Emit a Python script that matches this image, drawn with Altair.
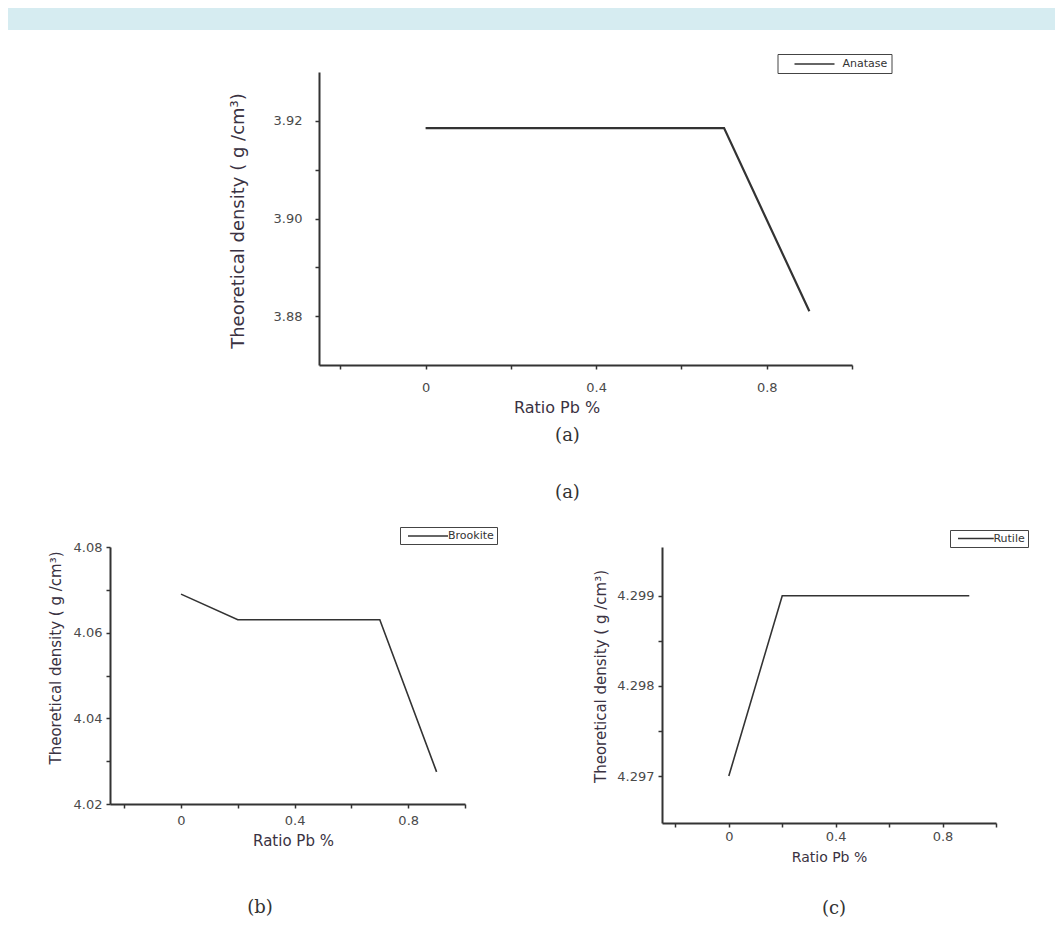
import altair as alt
import pandas as pd

# ---------------- data ----------------
ratio = [0.0, 0.2, 0.7, 0.9]
anatase = [3.9185, 3.9185, 3.9185, 3.881]
brookite = [4.069, 4.063, 4.063, 4.0275]
rutile = [4.297, 4.299, 4.299, 4.299]

x_ticks = [-0.2, 0.0, 0.2, 0.4, 0.6, 0.8, 1.0]
x_labels = ["0.00", "0.40", "0.80"]

a_ticks = [3.88, 3.89, 3.90, 3.91, 3.92]
a_labels = ["3.88", "3.90", "3.92"]
b_ticks = [4.02, 4.03, 4.04, 4.05, 4.06, 4.07, 4.08]
b_labels = ["4.02", "4.04", "4.06", "4.08"]
c_ticks = [4.297, 4.2975, 4.298, 4.2985, 4.299]
c_labels = ["4.2970", "4.2980", "4.2990"]

Y_TITLE = "Theoretical density ( g /cm\u00b3)"
X_TITLE = "Ratio Pb %"
NB = "\u00a0"

AXIS_COL = "#333333"
LABEL_COL = "#4a4a4a"
TITLE_COL = "#3a3242"
CAP_COL = "#333333"


def lab_expr(keys, keyfmt, showfmt):
    lst = "[" + ",".join("'" + k + "'" for k in keys) + "]"
    return (f"indexof({lst}, format(datum.value, '{keyfmt}')) >= 0 ? "
            f"format(datum.value, '{showfmt}') : ''")


def spacer(w, h, fill=None):
    return alt.Chart(alt.Data(values=[])).mark_point(opacity=0).encode(
        x=alt.value(0), y=alt.value(0)
    ).properties(width=w, height=h, view=alt.ViewBackground(stroke=None, fill=fill))


def panel(vals, name, ydom, yticks, ylabels, ykey, yshow, w, h, p):
    df = pd.DataFrame({"ratio": ratio, "density": vals, "phase": [name] * len(ratio)})
    x = alt.X(
        "ratio:Q",
        scale=alt.Scale(domain=[-0.25, 1.0], nice=False, zero=False),
        axis=alt.Axis(
            values=x_ticks, labelExpr=lab_expr(x_labels, ".2f", "~g"),
            title=X_TITLE, grid=False, domainColor=AXIS_COL, domainWidth=2,
            tickColor=AXIS_COL, tickWidth=1.5, tickSize=4,
            labelFont="DejaVu Sans", labelFontSize=p["lfs"], labelColor=LABEL_COL,
            labelPadding=p["xlp"], labelFlush=False, labelOverlap=False,
            titleFont=p["tfont"], titleFontSize=p["xtfs"], titleFontWeight="normal",
            titleColor=TITLE_COL, titleX=p["xtx"], titleY=p["xty"],
            titleAlign="center", titleBaseline="middle",
        ),
    )
    y = alt.Y(
        "density:Q",
        scale=alt.Scale(domain=ydom, nice=False, zero=False),
        axis=alt.Axis(
            values=yticks, labelExpr=lab_expr(ylabels, ykey, yshow),
            title=Y_TITLE, grid=False, domainColor=AXIS_COL, domainWidth=2,
            tickColor=AXIS_COL, tickWidth=1.5, tickSize=4,
            labelFont="DejaVu Sans", labelFontSize=p["lfs"], labelColor=LABEL_COL,
            labelPadding=p["ylp"], labelFlush=False, labelOverlap=False,
            titleFont=p["tfont"], titleFontSize=p["ytfs"], titleFontWeight="normal",
            titleColor=TITLE_COL, titleX=p["ytx"], titleY=p["yty"], titleAngle=270,
            titleAlign="center", titleBaseline="middle",
        ),
    )
    color = alt.Color(
        "phase:N",
        scale=alt.Scale(domain=[name], range=["#333333"]),
        legend=alt.Legend(
            title=None, orient="none", legendX=p["lgx"], legendY=p["lgy"],
            symbolType="M-4,0H4", symbolSize=p["ssize"], symbolStrokeWidth=1.5,
            symbolStrokeColor="#555555", symbolOffset=p["soff"],
            labelOffset=p["loff"], labelFont="DejaVu Sans", labelFontSize=11,
            labelColor="#333333", labelExpr=p["lexpr"],
            strokeColor="#444444", fillColor="white", padding=p["lpad"],
            cornerRadius=0,
        ),
    )
    title = alt.TitleParams(
        text=p["cap"], subtitle=p.get("sub", ""), orient="bottom", anchor="middle",
        frame="group", offset=p["coff"], dx=p["cdx"],
        font="DejaVu Serif", fontSize=18, fontWeight="normal", color=CAP_COL,
        subtitleFont="DejaVu Serif", subtitleFontSize=18, subtitleColor=CAP_COL,
        subtitlePadding=p.get("subpad", 0),
    )
    return alt.Chart(df, title=title).mark_line(strokeWidth=p["lw"]).encode(
        x=x, y=y, color=color
    ).properties(width=w, height=h)


pa = dict(lfs=13, xlp=12, ylp=13, tfont="DejaVu Sans", xtfs=16, ytfs=18,
          xtx=237.5, xty=42, ytx=-80.5, yty=148.5,
          lgx=458.5, lgy=-18, ssize=100, soff=27, loff=22, lpad=4,
          lexpr="datum.label + '" + NB * 8 + "'",
          cap="(a)", sub="(a)", subpad=39, coff=12, cdx=-18, lw=2.2)
pb = dict(lfs=13, xlp=6, ylp=4, tfont="DejaVu Sans", xtfs=15, ytfs=15,
          xtx=183, xty=36, ytx=-55, yty=110.5,
          lgx=290, lgy=-20, ssize=100, soff=19, loff=14, lpad=3,
          lexpr="datum.label",
          cap="(b)", coff=51, cdx=-27.5, lw=1.6)
pc = dict(lfs=13, xlp=3, ylp=4, tfont="DejaVu Sans", xtfs=14, ytfs=15,
          xtx=167, xty=34, ytx=-62, yty=129,
          lgx=288, lgy=-17, ssize=80, soff=17.4, loff=12, lpad=3,
          lexpr="datum.label",
          cap="(c)", coff=36, cdx=5, lw=1.6)

chart_a = panel(anatase, "Anatase", [3.87, 3.93], a_ticks, a_labels, ".2f", ".2f", 533, 293, pa)
chart_b = panel(brookite, "Brookite", [4.02, 4.08], b_ticks, b_labels, ".2f", ".2f", 355, 257, pb)
chart_c = panel(rutile, "Rutile", [4.29648, 4.29954], c_ticks, c_labels, ".4f", ".3f", 334, 276, pc)

banner = spacer(1047, 22, fill="#d6ecf1")

# nested rows count as zero height under flush bounds, so the next spacer
# carries the row height as well (293 + 182)
row_a = alt.hconcat(spacer(310.5, 1), chart_a, spacing=0, bounds="flush").resolve_scale(
    color="independent").resolve_legend(color="independent")
row_b = alt.hconcat(spacer(102, 1), chart_b, spacer(196.7, 1), chart_c,
                    spacing=0, bounds="flush").resolve_scale(
    color="independent").resolve_legend(color="independent")

chart = alt.vconcat(
    banner, spacer(0, 42), row_a, spacer(0, 475), row_b,
    spacing=0, bounds="flush",
).resolve_scale(color="independent").resolve_legend(color="independent").properties(
    padding=0
).configure(background="white").configure_view(stroke=None)

chart.save("out.html", embed_options={"renderer": "svg", "actions": False})
